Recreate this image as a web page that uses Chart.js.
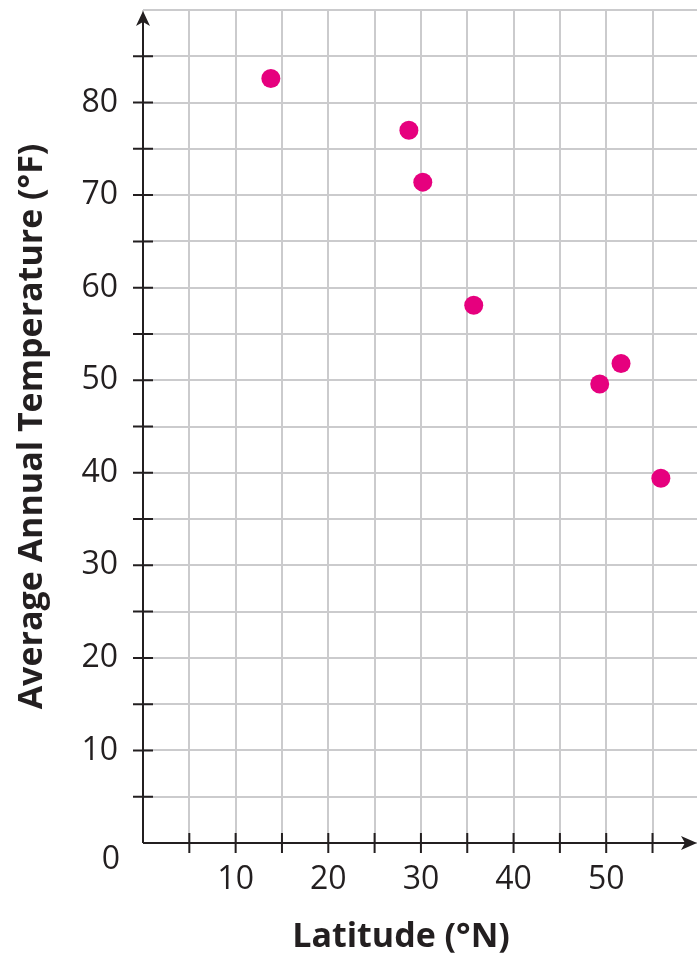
<!DOCTYPE html>
<html>
<head>
<meta charset="utf-8">
<script src="https://cdn.jsdelivr.net/npm/chart.js@4.4.1/dist/chart.umd.min.js"></script>
<style>
  html, body { margin: 0; padding: 0; background: #fff; }
  #wrap { width: 697px; height: 955px; }
</style>
</head>
<body>
<div id="wrap"><canvas id="latitude-chart"></canvas></div>
<script>
// data
const latitudes = [13.8, 28.7, 30.2, 35.7, 49.3, 51.6, 55.9];
const avgTemps = [82.6, 77.0, 71.4, 58.1, 49.6, 51.8, 39.4];
const xTickLabels = [10, 20, 30, 40, 50];
const yTickLabels = [10, 20, 30, 40, 50, 60, 70, 80];
const originLabel = "0";
const xTitle = "Latitude (°N)";
const yTitle = "Average Annual Temperature (°F)";

const ink = "#231f20";
const gridGrey = "#cbcbcd";
Chart.defaults.font.family = "'Open Sans', sans-serif";
Chart.defaults.color = ink;

// axis lines with arrows, crossing tick marks, origin label and x title
const axisArrows = {
  id: "axisArrows",
  beforeDatasetsDraw(chart) {
    const { ctx, chartArea: a, scales: { x, y } } = chart;
    const x0 = x.getPixelForValue(0);
    const y0 = y.getPixelForValue(0);
    ctx.save();
    ctx.strokeStyle = ink;
    ctx.fillStyle = ink;
    ctx.lineWidth = 2;

    ctx.beginPath();
    ctx.moveTo(x0, y0);
    ctx.lineTo(a.right - 6, y0);
    ctx.moveTo(x0, y0);
    ctx.lineTo(x0, a.top + 8);
    for (let v = 5; v < x.max; v += 5) {
      const px = x.getPixelForValue(v);
      ctx.moveTo(px, y0 - 10);
      ctx.lineTo(px, y0 + 10);
    }
    for (let v = 5; v < y.max; v += 5) {
      const py = y.getPixelForValue(v);
      ctx.moveTo(x0 - 10, py);
      ctx.lineTo(x0 + 10, py);
    }
    ctx.stroke();

    // arrow heads
    ctx.beginPath();
    ctx.moveTo(a.right, y0);
    ctx.lineTo(a.right - 16, y0 - 7);
    ctx.lineTo(a.right - 12, y0);
    ctx.lineTo(a.right - 16, y0 + 7);
    ctx.closePath();
    ctx.fill();
    ctx.beginPath();
    ctx.moveTo(x0, a.top + 1);
    ctx.lineTo(x0 - 7, a.top + 16);
    ctx.lineTo(x0, a.top + 12);
    ctx.lineTo(x0 + 7, a.top + 16);
    ctx.closePath();
    ctx.fill();

    ctx.font = "32px 'Open Sans', sans-serif";
    ctx.textAlign = "right";
    ctx.textBaseline = "middle";
    ctx.fillText(originLabel, x0 - 23, y0 + 17);

    ctx.font = "bold 34px 'Open Sans', sans-serif";
    ctx.textAlign = "center";
    ctx.textBaseline = "alphabetic";
    ctx.fillText(xTitle, a.left + 258, y0 + 104);
    ctx.restore();
  }
};

const ctx = document.getElementById("latitude-chart").getContext("2d");
new Chart(ctx, {
  type: "scatter",
  data: {
    datasets: [
      {
        data: latitudes.map((lat, i) => ({ x: lat, y: avgTemps[i] })),
        backgroundColor: "#e6007e",
        borderWidth: 0,
        pointRadius: 9.5,
        pointHoverRadius: 9.5,
      },
    ],
  },
  options: {
    responsive: true,
    maintainAspectRatio: false,
    animation: false,
    layout: {
      autoPadding: false,
      padding: { top: 10, right: 0, bottom: 0, left: 0 },
    },
    scales: {
      x: {
        type: "linear",
        min: 0,
        max: 59.8,
        border: { display: false },
        grid: { color: gridGrey, lineWidth: 2, drawTicks: false },
        ticks: {
          stepSize: 5,
          includeBounds: false,
          padding: 18,
          maxRotation: 0,
          autoSkip: false,
          font: { size: 32 },
          callback: (v) => (xTickLabels.includes(v) ? String(v) : ""),
        },
        afterFit(scale) {
          scale.height = 112;
          scale.paddingLeft = 0;
          scale.paddingRight = 0;
        },
      },
      y: {
        type: "linear",
        min: 0,
        max: 90,
        border: { display: false },
        grid: { color: gridGrey, lineWidth: 2, drawTicks: false },
        ticks: {
          stepSize: 5,
          padding: 25,
          autoSkip: false,
          font: { size: 32 },
          callback: (v) => (yTickLabels.includes(v) ? String(v) : ""),
        },
        title: {
          display: true,
          text: yTitle,
          color: ink,
          padding: { top: 12, bottom: 0 },
          font: { size: 34, weight: "bold" },
        },
        afterFit(scale) {
          scale.width = 143;
          scale.paddingTop = 0;
          scale.paddingBottom = 0;
        },
      },
    },
    plugins: {
      legend: { display: false },
      tooltip: { enabled: false },
    },
  },
  plugins: [axisArrows],
});
</script>
</body>
</html>
